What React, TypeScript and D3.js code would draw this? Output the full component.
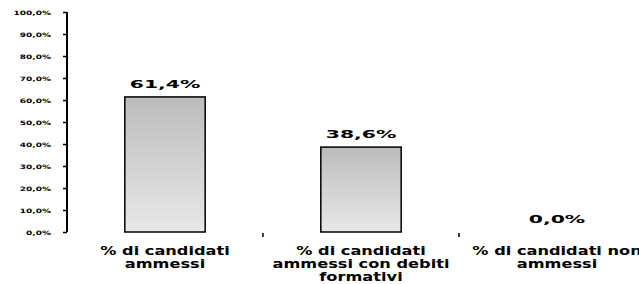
import React, { useEffect, useRef } from "react";
import * as d3 from "d3";

const categories = [
  ["% di candidati", "ammessi"],
  ["% di candidati", "ammessi con debiti", "formativi"],
  ["% di candidati non", "ammessi"],
];
const values = [61.4, 38.6, 0.0];
const yTicks = [0, 10, 20, 30, 40, 50, 60, 70, 80, 90, 100];

const fmt = (v: number) => v.toFixed(1).replace(".", ",") + "%";
const FONT = "'DejaVu Sans', sans-serif";

export default function App() {
  const ref = useRef<SVGSVGElement>(null);

  useEffect(() => {
    const svg = d3.select(ref.current);
    svg.selectAll("*").remove();

    const left = 67;
    const top = 12;
    const bottom = 232;

    const x = d3
      .scaleBand()
      .domain(categories.map((_, i) => String(i)))
      .range([left, left + 196 * 3])
      .paddingInner(0.59)
      .paddingOuter(0.295);

    const y = d3.scaleLinear().domain([0, 100]).range([bottom, top]);

    const defs = svg.append("defs");
    const grad = defs
      .append("linearGradient")
      .attr("id", "barGrad")
      .attr("x1", 0)
      .attr("y1", 0)
      .attr("x2", 0)
      .attr("y2", 1);
    grad.append("stop").attr("offset", "0%").attr("stop-color", "#bcbcbc");
    grad.append("stop").attr("offset", "100%").attr("stop-color", "#e8e8e8");

    // y axis
    const yAxis = svg
      .append("g")
      .attr("transform", `translate(${left},0)`)
      .call(
        d3
          .axisLeft(y)
          .tickValues(yTicks)
          .tickSize(4)
          .tickFormat((d) => fmt(+d))
      );
    yAxis.select(".domain").attr("stroke", "#000").attr("stroke-width", 2).attr("d", `M0,${top}V${bottom}`);
    yAxis.selectAll(".tick line").attr("stroke", "#000").attr("stroke-width", 1.5);
    yAxis
      .selectAll(".tick text")
      .attr("fill", "#000")
      .attr("x", 0)
      .attr("dy", "0.36em")
      .attr("transform", "translate(-16,0) scale(1.5,1)")
      .style("font-family", FONT)
      .style("font-weight", "bold")
      .style("font-size", "6px");

    // category separators
    svg
      .append("g")
      .selectAll("line")
      .data([1, 2])
      .join("line")
      .attr("x1", (d) => left + 196 * d)
      .attr("x2", (d) => left + 196 * d)
      .attr("y1", bottom + 1)
      .attr("y2", bottom + 5)
      .attr("stroke", "#000")
      .attr("stroke-width", 1.5);

    // bars
    svg
      .append("g")
      .selectAll("rect")
      .data(values)
      .join("rect")
      .attr("x", (_, i) => x(String(i))!)
      .attr("y", (d) => y(d))
      .attr("width", x.bandwidth())
      .attr("height", (d) => y(0) - y(d))
      .attr("fill", "url(#barGrad)")
      .attr("stroke", (d) => (d > 0 ? "#000" : "none"))
      .attr("stroke-width", 1.5);

    // value labels
    svg
      .append("g")
      .selectAll("text")
      .data(values)
      .join("text")
      .attr("x", 0)
      .attr("y", 0)
      .attr(
        "transform",
        (d, i) => `translate(${x(String(i))! + x.bandwidth() / 2},${y(d) - 9}) scale(1.85,1)`
      )
      .attr("text-anchor", "middle")
      .style("font-family", FONT)
      .style("font-weight", "bold")
      .style("font-size", "11px")
      .text((d) => fmt(d));

    // category labels
    const labels = svg
      .append("g")
      .selectAll("text")
      .data(categories)
      .join("text")
      .attr("x", 0)
      .attr("y", 0)
      .attr("transform", (_, i) => `translate(${x(String(i))! + x.bandwidth() / 2},255) scale(1.35,1)`)
      .attr("text-anchor", "middle")
      .style("font-family", FONT)
      .style("font-weight", "bold")
      .style("font-size", "12px");
    labels
      .selectAll("tspan")
      .data((d) => d)
      .join("tspan")
      .attr("x", 0)
      .attr("dy", (_, i) => (i === 0 ? 0 : 13))
      .text((d) => d);
  }, []);

  return (
    <svg
      ref={ref}
      width={639}
      height={284}
      style={{ position: "absolute", left: 0, top: 0, background: "#fff" }}
    />
  );
}
